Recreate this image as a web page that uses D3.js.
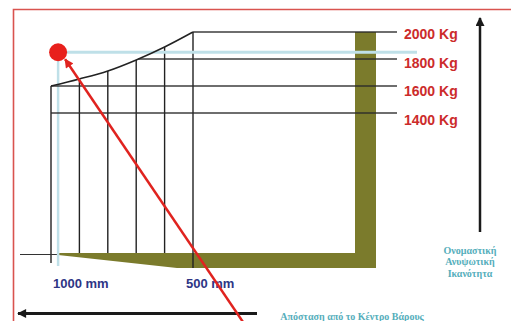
<!DOCTYPE html>
<html><head><meta charset="utf-8">
<script src="https://cdn.jsdelivr.net/npm/d3@7/dist/d3.min.js"></script>
<style>html,body{margin:0;padding:0;background:#fff;}svg{display:block;}</style>
</head><body>
<svg id="c" width="511" height="321"></svg>
<script>
// Data
const distances = [1000, 900, 800, 700, 600, 500];        // load centre distance (mm)
const capacity  = [1600, 1652, 1711, 1793, 1889, 2000];   // rated capacity (Kg)
const weightLevels = [2000, 1800, 1600, 1400];
const weightLabels = ["2000 Kg", "1800 Kg", "1600 Kg", "1400 Kg"];
const distanceTicks = [1000, 500];
const distanceLabels = ["1000 mm", "500 mm"];
const loadDistance = [975];
const loadWeight = [1850];
const capacityTitle = ["Ονομαστική", "Ανυψωτική", "Ικανότητα"];
const distanceTitle = "Απόσταση από το Κέντρο Βάρους";

const svg = d3.select("#c");
const x = d3.scaleLinear().domain([1000, 500]).range([51, 193]);
const y = d3.scaleLinear().domain([1400, 2000]).range([113, 32]);
const baseY = 253, lineEnd = 397, mastL = 355, mastR = 376, bottomY = 267;

const defs = svg.append("defs");
function marker(id, color, w, h) {
  defs.append("marker").attr("id", id).attr("viewBox", "0 0 10 10")
    .attr("refX", 9).attr("refY", 5).attr("markerWidth", w).attr("markerHeight", h)
    .attr("orient", "auto").attr("markerUnits", "userSpaceOnUse")
    .append("path").attr("d", "M0,0 L10,5 L0,10 Z").attr("fill", color);
}
marker("ak", "#1a1a1a", 10, 9);
marker("ar", "#e0231f", 10, 9);

// red frame
svg.append("path").attr("d", "M13.5,330 L13.5,9.5 L520,9.5")
  .attr("fill", "none").attr("stroke", "#d9534f").attr("stroke-width", 1.6);

// capacity at a weight level: distance where curve reaches it
function distAt(w) {
  if (w <= capacity[0]) return distances[0];
  for (let i = 1; i < capacity.length; i++) {
    if (w <= capacity[i]) {
      const t = (w - capacity[i-1]) / (capacity[i] - capacity[i-1]);
      return distances[i-1] + t * (distances[i] - distances[i-1]);
    }
  }
  return distances[distances.length - 1];
}

// olive mast/fork shape
const x0 = x(loadDistance[0]);
svg.append("path")
  .attr("d", `M${x0},${baseY} L${mastL},${baseY} L${mastL},${y(2000)} L${mastR},${y(2000)} L${mastR},${bottomY+1} L177,${bottomY+1} L${x0},${baseY+2} Z`)
  .attr("fill", "#7b7b2c");

// verticals
distances.forEach((d, i) => {
  const bottom = i === 0 ? 263 : (i === distances.length - 1 ? 268 : baseY);
  svg.append("line").attr("x1", x(d)).attr("x2", x(d))
    .attr("y1", y(capacity[i])).attr("y2", bottom)
    .attr("stroke", "#222").attr("stroke-width", 1.4);
});

// base line at left
svg.append("line").attr("x1", 20).attr("x2", x0).attr("y1", 254.5).attr("y2", 254.5)
  .attr("stroke", "#333").attr("stroke-width", 1.2);

// light blue load guides
svg.append("line").attr("x1", x0).attr("x2", x0).attr("y1", y(loadWeight[0])).attr("y2", 266)
  .attr("stroke", "#bfe0e8").attr("stroke-width", 2.5);
svg.append("line").attr("x1", x0).attr("x2", 417).attr("y1", y(loadWeight[0])).attr("y2", y(loadWeight[0]))
  .attr("stroke", "#bfe0e8").attr("stroke-width", 3);

// horizontal weight lines
weightLevels.forEach(w => {
  svg.append("line").attr("x1", x(distAt(w))).attr("x2", lineEnd)
    .attr("y1", y(w)).attr("y2", y(w))
    .attr("stroke", "#2a2a2a").attr("stroke-width", 1.3).attr("opacity", 0.9);
});

// capacity curve
svg.append("path")
  .datum(distances.map((d, i) => [x(d), y(capacity[i])]))
  .attr("d", d3.line().curve(d3.curveMonotoneX))
  .attr("fill", "none").attr("stroke", "#222").attr("stroke-width", 1.5);

// weight labels
weightLabels.forEach((t, i) => {
  svg.append("text").attr("x", 404).attr("y", 39 + i * 28.7)
    .attr("font-family", "Liberation Sans, Arial, sans-serif").attr("font-weight", "bold")
    .attr("font-size", 14).attr("fill", "#cc2b2b").text(t);
});

// distance labels
const dxs = [2, -7];
distanceLabels.forEach((t, i) => {
  svg.append("text").attr("x", x(distanceTicks[i]) + dxs[i]).attr("y", 288)
    .attr("font-family", "Liberation Sans, Arial, sans-serif").attr("font-weight", "bold")
    .attr("font-size", 13).attr("fill", "#2e3585").text(t);
});

// up arrow
svg.append("line").attr("x1", 480).attr("x2", 480).attr("y1", 232).attr("y2", 18)
  .attr("stroke", "#1a1a1a").attr("stroke-width", 2.5).attr("marker-end", "url(#ak)");
// left arrow
svg.append("line").attr("x1", 257).attr("x2", 18).attr("y1", 313.5).attr("y2", 313.5)
  .attr("stroke", "#1a1a1a").attr("stroke-width", 3).attr("marker-end", "url(#ak)");

// red load dot and arrow
svg.append("line").attr("x1", 243).attr("x2", x0 + 7).attr("y1", 322).attr("y2", y(loadWeight[0]) + 7)
  .attr("stroke", "#e0231f").attr("stroke-width", 2.5).attr("marker-end", "url(#ar)");
svg.append("circle").attr("cx", x0).attr("cy", y(loadWeight[0])).attr("r", 9).attr("fill", "#e8201c");

// Greek titles
capacityTitle.forEach((t, i) => {
  svg.append("text").attr("x", 470).attr("y", 253.5 + i * 11.5).attr("text-anchor", "middle")
    .attr("font-family", "Liberation Serif, Times New Roman, serif").attr("font-weight", "bold")
    .attr("font-size", 10).attr("fill", "#55aebb").text(t);
});
svg.append("text").attr("x", 352).attr("y", 319.5).attr("text-anchor", "middle")
  .attr("font-family", "Liberation Serif, Times New Roman, serif").attr("font-weight", "bold")
  .attr("font-size", 10).attr("fill", "#55aebb").text(distanceTitle);
</script>
</body></html>
